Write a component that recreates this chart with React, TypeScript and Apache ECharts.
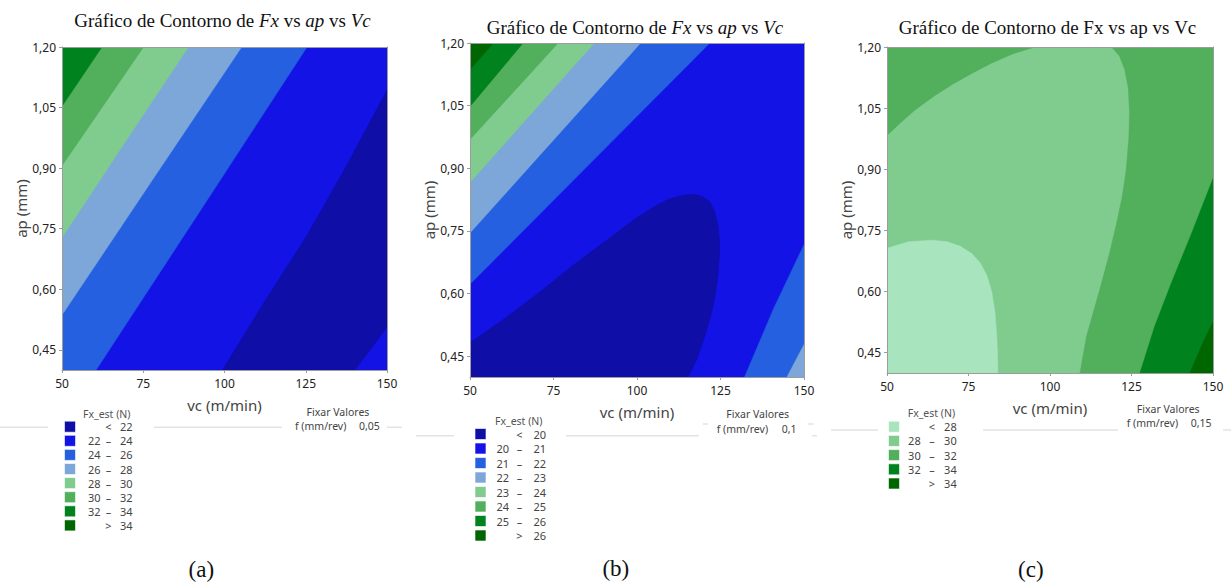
import React, { useEffect, useRef } from 'react';
import * as echarts from 'echarts';

// ---------- axes ----------
const X_TICKS = [50, 75, 100, 125, 150];
const Y_TICKS = [0.45, 0.6, 0.75, 0.9, 1.05, 1.2];
const VC_MIN = 50;
const VC_MAX = 150;
const AP_MIN = 0.4;
const AP_MAX = 1.2;

// ---------- panel (a): f = 0,05 mm/rev — contour lines read as (vc, ap) ----------
const a_line22_upper = [[99.4, 0.4], [112, 0.565], [125, 0.728], [137.5, 0.905], [150, 1.093]];
const a_line22_lower = [[150, 0.507], [145, 0.452], [140.1, 0.4]];
const a_line24 = [[60.5, 0.4], [93, 0.8], [125.4, 1.2]];
const a_line26 = [[50, 0.536], [77.6, 0.868], [105.3, 1.2]];
const a_line28 = [[50, 0.728], [69.4, 0.964], [88.9, 1.2]];
const a_line30 = [[50, 0.906], [75.1, 1.2]];
const a_line32 = [[50, 1.053], [62.3, 1.2]];
const a_legendBins = [[null, 22], [22, 24], [24, 26], [26, 28], [28, 30], [30, 32], [32, 34], [34, null]];
const a_fixedF = '0,05';

// ---------- panel (b): f = 0,1 mm/rev ----------
const b_line20 = [
  [50, 0.482], [60, 0.538], [70, 0.598], [80, 0.662], [90, 0.722], [100, 0.782], [106, 0.812],
  [109.8, 0.827], [113.4, 0.835], [116.8, 0.838], [119.5, 0.833], [121.8, 0.82], [123.3, 0.795],
  [124.3, 0.762], [124.7, 0.728], [124.7, 0.694], [124.2, 0.64], [123.3, 0.59], [122.2, 0.55],
  [120.4, 0.5], [117.9, 0.442], [115.3, 0.4],
];
const b_line21_upperLeft = [[50, 0.622], [121.8, 1.2]];
const b_line21_lowerRight = [[150, 0.717], [140.8, 0.562], [132.2, 0.4]];
const b_line22_upperLeft = [[50, 0.745], [101.1, 1.2]];
const b_line22_lowerRight = [[150, 0.478], [144.9, 0.4]];
const b_line23 = [[50, 0.866], [87.2, 1.2]];
const b_line24 = [[50, 0.969], [76.4, 1.2]];
const b_line25 = [[50, 1.048], [65.9, 1.2]];
const b_line26 = [[50, 1.136], [57.0, 1.2]];
const b_legendBins = [[null, 20], [20, 21], [21, 22], [22, 23], [23, 24], [24, 25], [25, 26], [26, null]];
const b_fixedF = '0,1';

// ---------- panel (c): f = 0,15 mm/rev ----------
const c_line28 = [
  [50, 0.706], [56.6, 0.722], [63.8, 0.726], [68.5, 0.722], [72.5, 0.711], [76, 0.693], [78.6, 0.67],
  [80.6, 0.64], [82.1, 0.6], [83.1, 0.55], [83.6, 0.5], [83.9, 0.45], [84, 0.4],
];
const c_line30_upperLeft = [
  [50, 0.983], [54, 1.013], [58.5, 1.045], [64.5, 1.08], [70, 1.108], [76, 1.135], [82, 1.16],
  [88.5, 1.183], [95.4, 1.2],
];
const c_line30_right = [
  [118.9, 1.2], [121.3, 1.178], [122.9, 1.145], [124, 1.1], [124.4, 1.04], [124.2, 0.98], [123.4, 0.9],
  [122.1, 0.83], [120.5, 0.77], [118.3, 0.695], [115.8, 0.62], [113.5, 0.555], [111.2, 0.49],
  [109.2, 0.4],
];
const c_line32 = [[150, 0.877], [143.4, 0.742], [137.2, 0.62], [132.1, 0.514], [127.6, 0.4]];
const c_line34 = [[150, 0.526], [146.4, 0.465], [142.9, 0.4]];
const c_legendBins = [[null, 28], [28, 30], [30, 32], [32, 34], [34, null]];
const c_fixedF = '0,15';

// ---------- styles ----------
const NAVY = '#0F0EA7';
const BRIGHT = '#1313E5';
const BLUE = '#2460E0';
const LIGHT_BLUE = '#7DA7D9';
const LIGHT_GREEN = '#80CC8F';
const MID_GREEN = '#52AF5C';
const GREEN = '#00821F';
const DARK_GREEN = '#006600';
const PALE_GREEN = '#A8E5BE';
const SANS = '"Noto Sans", "Open Sans", sans-serif';
const SERIF = '"Liberation Serif", "Times New Roman", serif';

const BL = [VC_MIN, AP_MIN];
const TL = [VC_MIN, AP_MAX];
const BR = [VC_MAX, AP_MIN];
const TR = [VC_MAX, AP_MAX];
const FULL = [BL, BR, TR, TL];

type Region = { pts: number[][]; color: string };

const panelA: Region[] = [
  { pts: FULL, color: BRIGHT },
  { pts: [...a_line22_upper, ...a_line22_lower], color: NAVY },
  { pts: [...a_line24, TL, BL], color: BLUE },
  { pts: [...a_line26, TL], color: LIGHT_BLUE },
  { pts: [...a_line28, TL], color: LIGHT_GREEN },
  { pts: [...a_line30, TL], color: MID_GREEN },
  { pts: [...a_line32, TL], color: GREEN },
];
const panelB: Region[] = [
  { pts: FULL, color: BRIGHT },
  { pts: [...b_line20, BL], color: NAVY },
  { pts: [...b_line21_upperLeft, TL], color: BLUE },
  { pts: [...b_line21_lowerRight, BR], color: BLUE },
  { pts: [...b_line22_upperLeft, TL], color: LIGHT_BLUE },
  { pts: [...b_line22_lowerRight, BR], color: LIGHT_BLUE },
  { pts: [...b_line23, TL], color: LIGHT_GREEN },
  { pts: [...b_line24, TL], color: MID_GREEN },
  { pts: [...b_line25, TL], color: GREEN },
  { pts: [...b_line26, TL], color: DARK_GREEN },
];
const panelC: Region[] = [
  { pts: FULL, color: LIGHT_GREEN },
  { pts: [...c_line28, BL], color: PALE_GREEN },
  { pts: [...c_line30_upperLeft, TL], color: MID_GREEN },
  { pts: [...c_line30_right, BR, TR], color: MID_GREEN },
  { pts: [...c_line32, BR], color: GREEN },
  { pts: [...c_line34, BR], color: DARK_GREEN },
];

const LEGEND_COLORS_8 = [NAVY, BRIGHT, BLUE, LIGHT_BLUE, LIGHT_GREEN, MID_GREEN, GREEN, DARK_GREEN];
const LEGEND_COLORS_5 = [PALE_GREEN, LIGHT_GREEN, MID_GREEN, GREEN, DARK_GREEN];

const PANELS = [
  {
    regions: panelA, grid: { left: 62, top: 47, width: 325, height: 323 }, italic: true,
    title: { x: 222.5, y: 20.5 },
    legend: { bins: a_legendBins, colors: LEGEND_COLORS_8, sq: 64.5, numL: 100.5, op: 108.5, numR: 132.5, titleX: 83, titleY: 413.5, y0: 426.7, dy: 14.1 },
    fixed: { f: a_fixedF, cx: 338, y1: 412.3, fx: 295, y2: 425.7, vx: 359 },
    lines: [[0, 48, 427.3], [154, 282, 427.3], [387, 402, 427.3]],
    sub: { label: '(a)', x: 201.3, y: 569 },
  },
  {
    regions: panelB, grid: { left: 470, top: 43, width: 334, height: 334 }, italic: true,
    title: { x: 635, y: 27 },
    legend: { bins: b_legendBins, colors: LEGEND_COLORS_8, sq: 475, numL: 509, op: 519.5, numR: 546, titleX: 495, titleY: 421, y0: 434, dy: 14.5 },
    fixed: { f: b_fixedF, cx: 757.7, y1: 414.3, fx: 716.7, y2: 429, vx: 781.7 },
    lines: [[416, 454, 435.7], [566, 699, 435.7], [812, 817, 435.7], [703, 708, 424], [808, 814, 424]],
    sub: { label: '(b)', x: 615.8, y: 568 },
  },
  {
    regions: panelC, grid: { left: 887, top: 47, width: 326, height: 326 }, italic: false,
    title: { x: 1047.5, y: 27 },
    legend: { bins: c_legendBins, colors: LEGEND_COLORS_5, sq: 888.5, numL: 920.7, op: 932, numR: 956.7, titleX: 907.7, titleY: 413.3, y0: 426.7, dy: 14.2 },
    fixed: { f: c_fixedF, cx: 1168.2, y1: 409.3, fx: 1126.7, y2: 423.3, vx: 1190.7 },
    lines: [[831, 878, 430], [983, 1118, 430], [1223, 1231, 430]],
    sub: { label: '(c)', x: 1030.8, y: 569.3 },
  },
];

const AXIS_GRAY = '#9c9c9c';
const fmtY = (v: number) => v.toFixed(2).replace('.', ',');

function buildOption() {
  const grid: any[] = [];
  const xAxis: any[] = [];
  const yAxis: any[] = [];
  const series: any[] = [];
  const graphic: any[] = [];

  PANELS.forEach((p, i) => {
    grid.push({ ...p.grid, containLabel: false });
    xAxis.push({
      gridIndex: i, type: 'value', min: VC_MIN, max: VC_MAX, interval: 25, z: 10,
      name: 'vc (m/min)', nameLocation: 'middle', nameGap: 27,
      nameTextStyle: { fontFamily: SANS, fontSize: 15, color: '#444' },
      axisLine: { show: true, lineStyle: { color: AXIS_GRAY, width: 1 } },
      axisTick: { show: true, length: 3, lineStyle: { color: AXIS_GRAY } },
      axisLabel: { margin: 7, fontFamily: SANS, fontSize: 12, color: '#222', customValues: X_TICKS },
      splitLine: { show: false },
    });
    xAxis.push({
      gridIndex: i, type: 'value', min: VC_MIN, max: VC_MAX, position: 'top', z: 10,
      axisLine: { show: true, onZero: false, lineStyle: { color: AXIS_GRAY, width: 1 } },
      axisTick: { show: false }, axisLabel: { show: false }, splitLine: { show: false },
    });
    yAxis.push({
      gridIndex: i, type: 'value', min: AP_MIN, max: AP_MAX, z: 10,
      name: 'ap (mm)', nameLocation: 'middle', nameGap: 34,
      nameTextStyle: { fontFamily: SANS, fontSize: 15, color: '#444' },
      axisLine: { show: true, lineStyle: { color: AXIS_GRAY, width: 1 } },
      axisTick: { show: true, length: 3, customValues: Y_TICKS, lineStyle: { color: AXIS_GRAY } },
      axisLabel: { margin: 6, fontFamily: SANS, fontSize: 12, color: '#222', customValues: Y_TICKS, formatter: fmtY },
      splitLine: { show: false },
    });
    yAxis.push({
      gridIndex: i, type: 'value', min: AP_MIN, max: AP_MAX, position: 'right', z: 10,
      axisLine: { show: true, onZero: false, lineStyle: { color: AXIS_GRAY, width: 1 } },
      axisTick: { show: false }, axisLabel: { show: false }, splitLine: { show: false },
    });

    p.regions.forEach((r) => {
      series.push({
        type: 'custom', coordinateSystem: 'cartesian2d', xAxisIndex: 2 * i, yAxisIndex: 2 * i,
        silent: true, clip: true, data: [r.pts[0]],
        renderItem: (_params: any, api: any) => ({
          type: 'polygon',
          shape: { points: r.pts.map((pt) => api.coord(pt)) },
          style: { fill: r.color, stroke: r.color, lineWidth: 0.5 },
        }),
      });
    });

    // title
    const tfont = { fontFamily: SERIF, fontSize: 19, fill: '#111' };
    const it = p.italic ? 'i' : 'n';
    graphic.push({
      type: 'text', x: p.title.x, y: p.title.y, z: 20,
      style: {
        text: `{n|Gráfico de Contorno de }{${it}|Fx}{n| vs }{${it}|ap}{n| vs }{${it}|Vc}`,
        align: 'center', verticalAlign: 'middle',
        rich: { n: { ...tfont }, i: { ...tfont, fontStyle: 'italic' } },
        ...tfont,
      },
    });

    // separator lines
    p.lines.forEach(([x1, x2, y]) => {
      graphic.push({ type: 'line', shape: { x1, y1: y, x2, y2: y }, style: { stroke: '#e3e3e3', lineWidth: 1.5 }, z: 1 });
    });

    // legend
    const L = p.legend;
    const lfont = { fontFamily: SANS, fontSize: 11, fill: '#444' };
    graphic.push({ type: 'text', x: L.titleX, y: L.titleY, z: 20, style: { text: 'Fx_est (N)', verticalAlign: 'middle', ...lfont, fontSize: 10.5, fill: '#555' } });
    L.bins.forEach((bin, k) => {
      const y = L.y0 + k * L.dy;
      graphic.push({ type: 'rect', shape: { x: L.sq, y: y - 5.5, width: 11, height: 11 }, style: { fill: L.colors[k], stroke: '#ffffff', lineWidth: 0.6 }, z: 20 });
      const [lo, hi] = bin as [number | null, number | null];
      const op = lo == null ? '<' : hi == null ? '>' : '–';
      graphic.push({ type: 'text', x: L.op, y, z: 20, style: { text: op, align: 'center', verticalAlign: 'middle', ...lfont } });
      graphic.push({ type: 'text', x: L.numR, y, z: 20, style: { text: String(hi ?? lo), align: 'right', verticalAlign: 'middle', ...lfont } });
      if (lo != null && hi != null) {
        graphic.push({ type: 'text', x: L.numL, y, z: 20, style: { text: String(lo), align: 'right', verticalAlign: 'middle', ...lfont } });
      }
    });

    // fixed values
    const F = p.fixed;
    graphic.push({ type: 'text', x: F.cx, y: F.y1, z: 20, style: { text: 'Fixar Valores', align: 'center', verticalAlign: 'middle', ...lfont, fontSize: 10.5 } });
    graphic.push({ type: 'rect', shape: { x: F.fx - 3, y: F.y2 - 6, width: F.vx + 26 - F.fx, height: 12 }, style: { fill: '#fff' }, z: 15 });
    graphic.push({ type: 'text', x: F.fx, y: F.y2, z: 20, style: { text: 'f (mm/rev)', verticalAlign: 'middle', ...lfont, fontSize: 10.5 } });
    graphic.push({ type: 'text', x: F.vx, y: F.y2, z: 20, style: { text: F.f, verticalAlign: 'middle', ...lfont, fontSize: 10.5 } });

    // sub-figure label
    graphic.push({ type: 'text', x: p.sub.x, y: p.sub.y, z: 20, style: { text: p.sub.label, align: 'center', verticalAlign: 'middle', fontFamily: SERIF, fontSize: 23, fill: '#111' } });
  });

  return { animation: false, backgroundColor: '#ffffff', grid, xAxis, yAxis, series, graphic };
}

export default function App() {
  const ref = useRef<HTMLDivElement>(null);
  useEffect(() => {
    document.body.style.margin = '0';
    const chart = echarts.init(ref.current!, undefined, { renderer: 'svg' });
    chart.setOption(buildOption());
    return () => chart.dispose();
  }, []);
  return <div ref={ref} style={{ width: 1231, height: 584 }} />;
}
